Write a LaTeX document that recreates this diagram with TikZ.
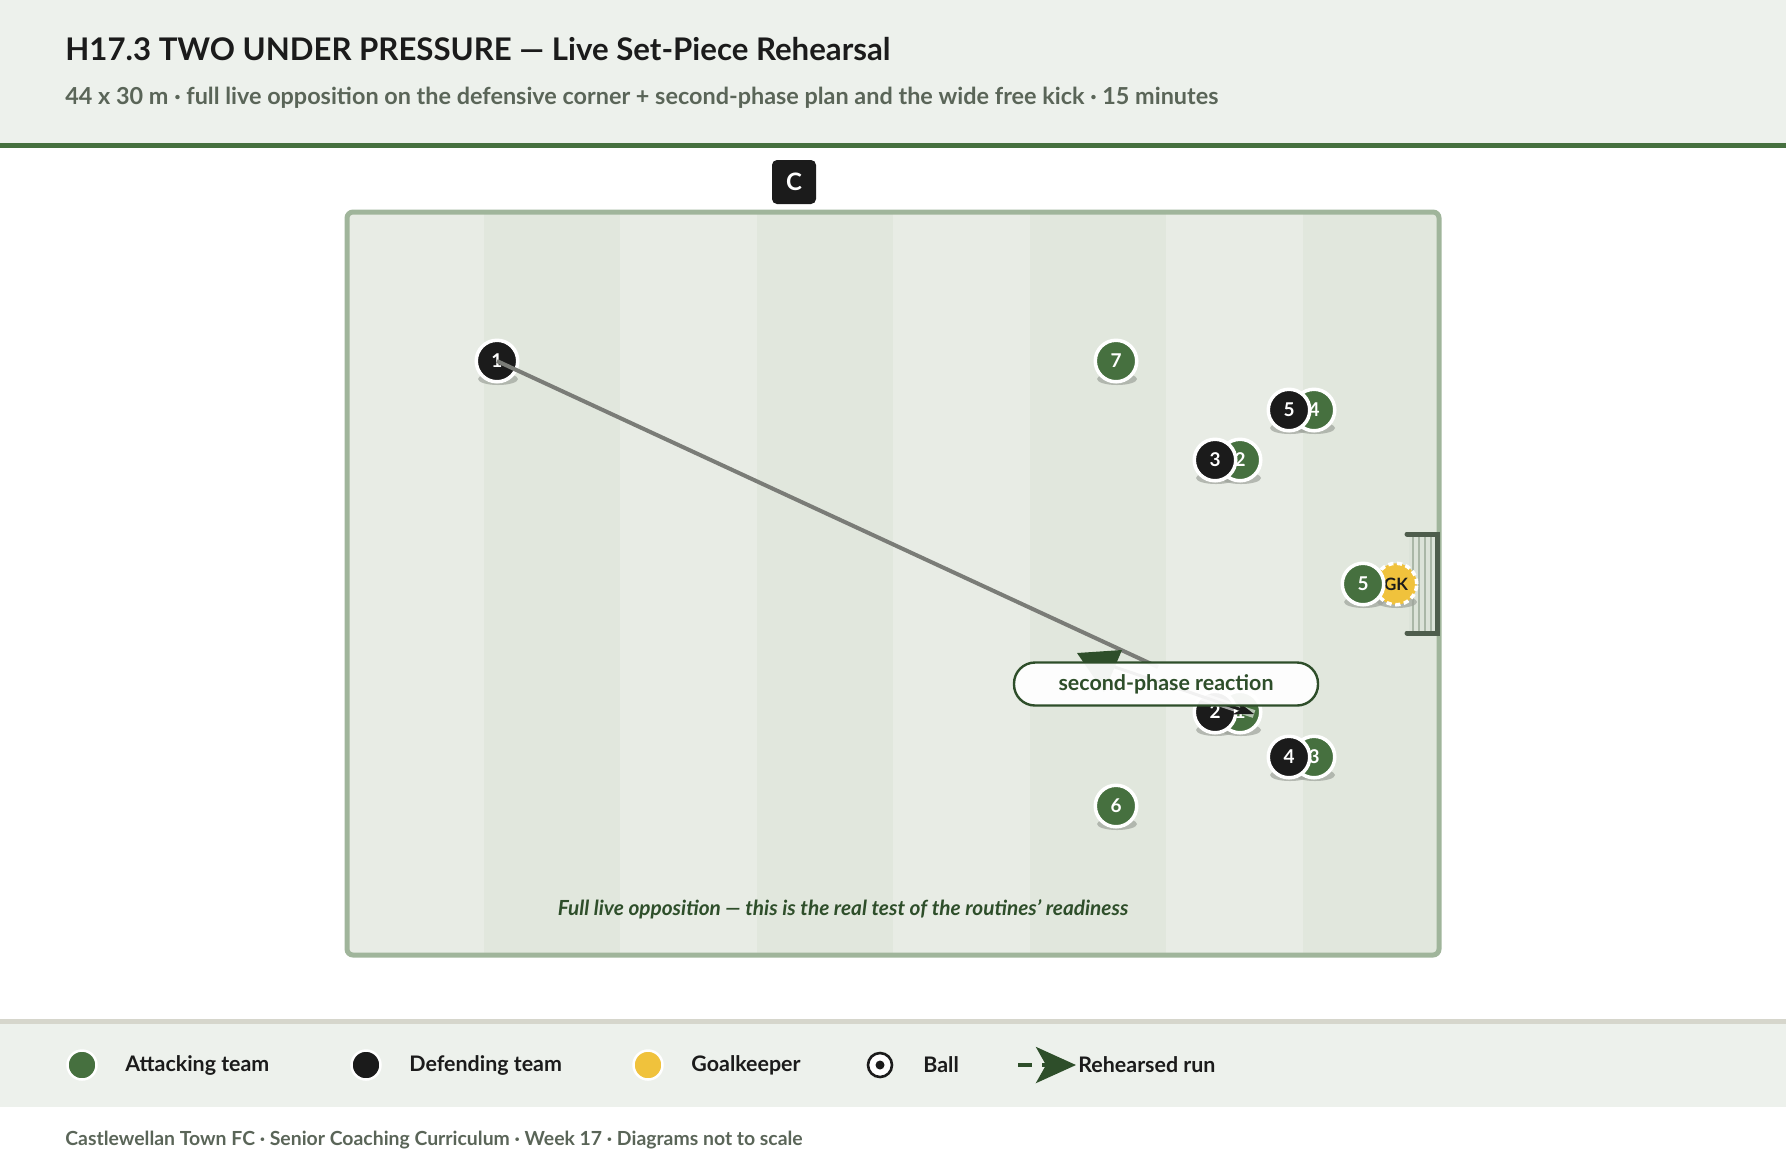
\documentclass[tikz,border=0pt]{standalone}
\usepackage{fontspec}
\setmainfont{Lato}
\usetikzlibrary{arrows.meta}
\definecolor{gruen}{HTML}{46703F}
\definecolor{schwarz}{HTML}{1B1B1B}
\definecolor{gelb}{HTML}{F0C23C}
\definecolor{dunkelgruen}{HTML}{2E4E2A}
\definecolor{rasenhell}{HTML}{E8ECE5}
\definecolor{rasendunkel}{HTML}{E1E7DD}
\definecolor{randgruen}{HTML}{A0B59B}
\definecolor{kopf}{HTML}{EDF1EC}
\definecolor{grauschrift}{HTML}{5A6558}
\definecolor{torgrau}{HTML}{4E5D4C}
\definecolor{netzgrau}{HTML}{AAB7A7}
\definecolor{netzhell}{HTML}{DCE3D9}
\definecolor{schattengrau}{HTML}{9EA39B}
\definecolor{passgrau}{HTML}{7A7C77}
\definecolor{trenn}{HTML}{D6D6CC}
\tikzset{
  spieler/.style={circle,minimum size=20.75pt,inner sep=0pt,draw=white,line width=1.75pt,text=white,font=\bfseries\fontsize{9.5}{10}\selectfont},
  angriff/.style={spieler,fill=gruen},
  abwehr/.style={spieler,fill=schwarz},
  torwart/.style={spieler,fill=gelb,text=schwarz,dash pattern=on 2.6pt off 1.8pt,font=\bfseries\fontsize{8.5}{10}\selectfont},
  schatten/.style={fill=schattengrau,opacity=0.7},
  zuspiel/.style={passgrau,line width=2pt},
  laufhalo/.style={white,opacity=0.6,line width=4pt},
  laufpfeil/.style={-{Stealth[length=10pt,width=7pt]},schwarz,line width=1.5pt},
  etikett/.style={draw=dunkelgruen,line width=1.2pt,fill=white,fill opacity=0.94,text opacity=1,rounded corners=10.5pt,minimum width=152pt,minimum height=21.5pt,text=dunkelgruen,font=\bfseries\fontsize{10.7}{12}\selectfont},
  ecke/.style={fill=schwarz,rounded corners=2.5pt,minimum size=22pt,inner sep=0pt,text=white,font=\bfseries\fontsize{12}{13}\selectfont},
  legpunkt/.style={circle,minimum size=14.5pt,inner sep=0pt,draw=white,line width=1.25pt},
  legtext/.style={anchor=west,inner sep=0pt,text=schwarz,font=\bfseries\fontsize{10.7}{12}\selectfont},
}
\newcommand\spielerliste{a4/1314/410/4/angriff, d5/1289/410/5/abwehr, a2/1240/460/2/angriff, d3/1215/460/3/abwehr, a1/1240/712/1/angriff, d2/1215/712/2/abwehr, a3/1314/757/3/angriff, d4/1289/757/4/abwehr, a7/1116/361/7/angriff, a6/1116/806/6/angriff, d1/497/361/1/abwehr, gk/1396/584/GK/torwart, a5/1363/584/5/angriff}

\begin{document}
\begin{tikzpicture}[x=0.5pt,y=-0.5pt]
  \useasboundingbox (0,0) rectangle (1786,1164);
  % kopf
  \fill[kopf] (0,0) rectangle (1786,143);
  \fill[gruen] (0,143) rectangle (1786,148);
  \node[anchor=base west,inner sep=0pt,text=schwarz,font=\bfseries\fontsize{15.6}{18}\selectfont] (titel) at (65,60) {H17.3 TWO UNDER PRESSURE — Live Set-Piece Rehearsal};
  \node[anchor=base west,inner sep=0pt,text=grauschrift,font=\bfseries\fontsize{11.7}{13}\selectfont] (unter) at (65,104) {44 x 30 m · full live opposition on the defensive corner + second-phase plan and the wide free kick · 15 minutes};
  % feld
  \begin{scope}
    \clip[rounded corners=3pt] (347,212) rectangle (1439,955);
    \fill[rasenhell] (347,212) rectangle (1439,955);
    \foreach \i in {1,3,5,7}{\fill[rasendunkel] (347+136.5*\i,212) rectangle (347+136.5*\i+136.5,955);}
  \end{scope}
  \draw[randgruen,line width=2.5pt,rounded corners=3pt] (347,212) rectangle (1439,955);
  % tor
  \fill[netzhell] (1409,536) rectangle (1435,631);
  \foreach \x in {1413,1419,1425,1431}{\draw[netzgrau,line width=1pt] (\x,536) -- (\x,631);}
  \draw[torgrau,line width=2.5pt,line cap=round] (1407,534) -- (1437,534) -- (1437,633) -- (1407,633);
  \node[ecke] (c) at (794,182) {C};
  % spieler
  \foreach \nm/\x/\y/\lab/\typ in \spielerliste{\fill[schatten] (\x+1,\y+18) ellipse (20 and 6);}
  \foreach \nm/\x/\y/\lab/\typ in \spielerliste{\node[\typ] (\nm) at (\x,\y) {\lab};}
  % wege
  \coordinate (passende) at (1158,667);
  \coordinate (laufstart) at (1100,662);
  \coordinate (laufziel) at (1254,714);
  \draw[zuspiel] (d1.center) -- (passende);
  \draw[laufhalo] (laufstart) -- (laufziel);
  \draw[laufpfeil] (laufstart) -- (laufziel);
  \fill[dunkelgruen] (1077,653) -- (1122,650) -- (1104,692) -- cycle;
  \node[etikett] (reaktion) at (1166,684) {second-phase reaction};
  \node[text=dunkelgruen,font=\bfseries\itshape\fontsize{10.4}{12}\selectfont] (hinweis) at (843,909) {Full live opposition — this is the real test of the routines' readiness};
  % legende
  \fill[trenn] (0,1019) rectangle (1786,1024);
  \fill[kopf] (0,1024) rectangle (1786,1107);
  \foreach \x/\farbe/\txt in {82/gruen/Attacking team, 366/schwarz/Defending team, 648/gelb/Goalkeeper}{
    \node[legpunkt,fill=\farbe] (lp\x) at (\x,1065) {};
    \node[legtext] (lt\x) at (\x+43,1065) {\txt};
  }
  \draw[schwarz,fill=white,line width=1.3pt] (880,1065) circle (12);
  \fill[schwarz] (880,1065) circle (4.5);
  \node[legtext] (ltball) at (923,1065) {Ball};
  \coordinate (legstart) at (1018,1065);
  \coordinate (legziel) at (1076,1065);
  \draw[dunkelgruen,line width=2pt,dash pattern=on 7pt off 5pt,-{Stealth[length=20pt,width=18pt,inset=5pt]}] (legstart) -- (legziel);
  \node[legtext] (ltlauf) at (1078,1065) {Rehearsed run};
  \node[anchor=base west,inner sep=0pt,text=grauschrift,font=\bfseries\fontsize{9.7}{11}\selectfont] (fuss) at (65,1145) {Castlewellan Town FC · Senior Coaching Curriculum · Week 17 · Diagrams not to scale};
\end{tikzpicture}
\end{document}
